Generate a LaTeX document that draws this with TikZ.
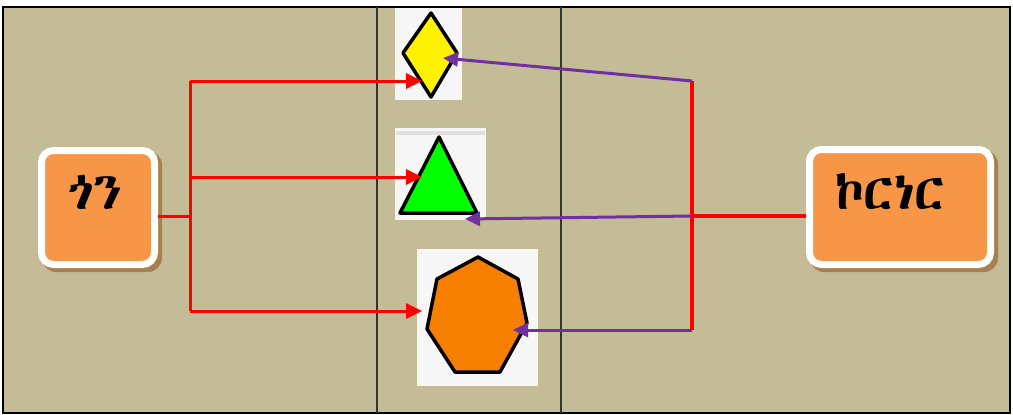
\documentclass[tikz,border=0pt]{standalone}
\usepackage{fontspec}
\IfFontExistsTF{Abyssinica SIL}{\newfontfamily\ethfont{Abyssinica SIL}}{%
  \IfFontExistsTF{FreeSerif}{\newfontfamily\ethfont{FreeSerif}}{\newfontfamily\ethfont{DejaVu Sans}}}
\usetikzlibrary{arrows.meta}
\definecolor{bgtan}{HTML}{C4BC97}
\definecolor{boxorange}{HTML}{F79646}
\definecolor{shadowbrown}{HTML}{A8804F}
\definecolor{heporange}{HTML}{F77F00}
\definecolor{arrpurple}{HTML}{7030A0}
\definecolor{panelwhite}{HTML}{F6F6F6}
\tikzset{
  topicbox/.style={draw=white, line width=7pt, fill=boxorange, rounded corners=12pt, inner sep=0pt},
  topictext/.style={font=\ethfont\bfseries\fontsize{52}{52}\selectfont, text=black, inner sep=0pt},
  panel/.style={fill=panelwhite, draw=none, inner sep=0pt},
  redline/.style={draw=red, line width=3pt},
  redarrow/.style={redline, -{Triangle[length=16pt,width=15pt]}},
  purplearrow/.style={draw=arrpurple, line width=3pt, -{Triangle[length=15pt,width=14pt]}},
  shapeline/.style={draw=black, line width=3.5pt, line join=round},
}
\begin{document}
\begin{tikzpicture}[x=1pt,y=-1pt]
\useasboundingbox (0,0) rectangle (1013,415);
\fill[white] (0,0) rectangle (1013,415);
\fill[bgtan] (3,7) rectangle (1010,413);
\draw[black, line width=1.2pt] (3,7) rectangle (1010,413);
\draw[black!80, line width=1.2pt] (377,7) -- (377,413);
\draw[black!80, line width=1.2pt] (561,7) -- (561,413);

% shadows
\fill[shadowbrown, rounded corners=14pt] (42,151) rectangle (162,272);
\fill[shadowbrown, rounded corners=14pt] (810,150) rectangle (998,272);
% topic boxes
\node[topicbox, minimum width=113pt, minimum height=114pt] (gon) at (98,207.5) {};
\node[topicbox, minimum width=181pt, minimum height=115pt] (corner) at (900,207) {};
\node[topictext] (gontext) at (95,192) {ጎን};
\node[topictext] (cornertext) at (890,192) {ኮርነር};

% panels
\node[panel, minimum width=67pt, minimum height=92pt] (p1) at (428.5,54) {};
\node[panel, minimum width=91pt, minimum height=92pt] (p2) at (440.5,174) {};
\fill[black!12] (396,131) rectangle (485,135);
\node[panel, minimum width=121pt, minimum height=137pt] (p3) at (477.5,317.5) {};

% shapes
\filldraw[shapeline, fill=yellow] (431,13) -- (457,53) -- (431,97) -- (403,53) -- cycle;
\filldraw[shapeline, fill=green] (439,137) -- (477,213) -- (400,213) -- cycle;
\filldraw[shapeline, fill=heporange] (478,257) -- (518,279) -- (527,323) -- (500,372) -- (455,372) -- (427,329) -- (437,279) -- cycle;

% arrow targets
\coordinate (t1) at (422,81);
\coordinate (t2) at (422,177);
\coordinate (t3) at (422,311);
\coordinate (u1) at (443,58);
\coordinate (u2) at (465,219);
\coordinate (u3) at (513,330);
\coordinate (lj) at (190,216);
\coordinate (rj) at (692,216);
\coordinate (lt) at (190,81);
\coordinate (lm) at (190,177);
\coordinate (lb) at (190,311);
\coordinate (rt) at (692,81);
\coordinate (rb) at (692,330);

% left connectors
\draw[redline] (gon.east |- lj) -- (lj);
\draw[redline] (lt) -- (lb);
\draw[redarrow] (lt) -- (t1);
\draw[redarrow] (lm) -- (t2);
\draw[redarrow] (lb) -- (t3);

% right connectors
\draw[redline, line width=4pt] (corner.west |- rj) -- (rj);
\draw[redline, line width=4pt] (rt) -- (rb);
\draw[purplearrow] (rt) -- (u1);
\draw[purplearrow] (rj) -- (u2);
\draw[purplearrow] (rb) -- (u3);
\end{tikzpicture}
\end{document}
